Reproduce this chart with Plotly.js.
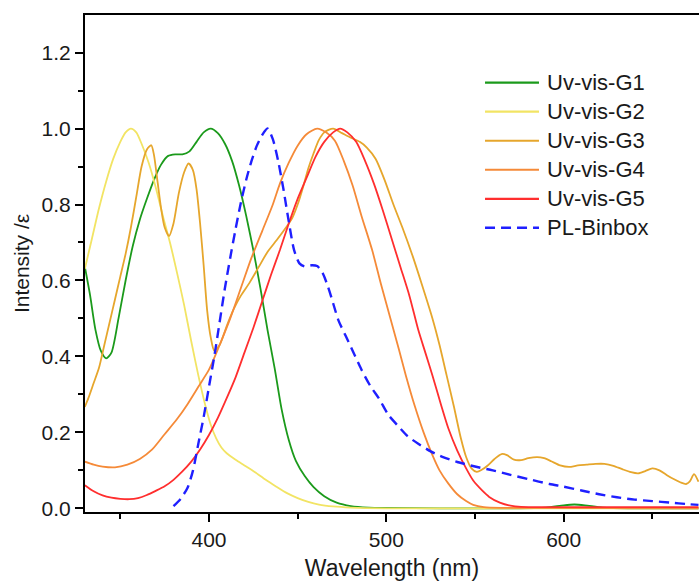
<!DOCTYPE html>
<html>
<head>
<meta charset="utf-8">
<script src="https://cdn.plot.ly/plotly-3.0.1.min.js"></script>
<style>html,body{margin:0;padding:0;background:#fff;}#chart{width:699px;height:586px;}</style>
</head>
<body>
<div id="chart"></div>
<script>
// ---- Data ----
const seriesNames = ["Uv-vis-G1", "Uv-vis-G2", "Uv-vis-G3", "Uv-vis-G4", "Uv-vis-G5", "PL-Binbox"];

const g1X = [330,333,336,339,342,345,349,353,357,361,365,369,373,377,381,385,389,393,397,401,405,409,413,417,421,425,429,433,437,441,445,449,454,459,465,472,480,490,500,530,570,590,600,606,612,622,640,676];
const g1Y = [0.636,0.56,0.47,0.415,0.395,0.41,0.5,0.6,0.69,0.76,0.815,0.865,0.905,0.928,0.932,0.932,0.94,0.965,0.99,1.0,0.988,0.96,0.915,0.85,0.77,0.68,0.58,0.47,0.37,0.26,0.18,0.125,0.085,0.056,0.032,0.015,0.006,0.002,0.001,0,0,0.002,0.008,0.01,0.008,0.002,0,0];

const g2X = [330,334,338,342,346,350,353,356,359,362,366,370,374,378,382,386,390,394,398,401,404,407,410,415,420,426,432,438,444,450,456,462,470,480,500,676];
const g2Y = [0.63,0.71,0.79,0.86,0.92,0.965,0.99,1.0,0.99,0.96,0.91,0.845,0.77,0.7,0.62,0.535,0.44,0.35,0.27,0.22,0.185,0.16,0.145,0.128,0.113,0.095,0.075,0.057,0.04,0.027,0.017,0.01,0.005,0.002,0,0];

const g3X = [330,332,335,338,341,344,347,350,353,356,359,362,365,367.5,369,371,373,375,377.5,380,383,386,388.5,391,393,395,397,399,401,403,406,410,414,418,423,428,433,438,442,447,450,453,456,459,462,465,470,475,480,485,489,494,499,504,509,515,520,526,530,534,538,542,545,548,551,554,557,561,565,568,572,576,580,585,589,593,598,603,608,613,618,623,628,633,638,642,646,650,654,658,662,666,669,671,673.5,676];
const g3Y = [0.267,0.29,0.33,0.37,0.43,0.49,0.55,0.61,0.67,0.74,0.82,0.9,0.945,0.956,0.93,0.86,0.79,0.74,0.717,0.75,0.83,0.885,0.908,0.89,0.84,0.75,0.64,0.52,0.45,0.415,0.43,0.48,0.525,0.56,0.595,0.635,0.675,0.705,0.73,0.765,0.8,0.845,0.895,0.935,0.97,0.99,1.0,0.988,0.976,0.965,0.95,0.92,0.865,0.8,0.74,0.662,0.59,0.5,0.43,0.35,0.27,0.185,0.135,0.105,0.096,0.102,0.112,0.13,0.143,0.14,0.128,0.127,0.132,0.135,0.132,0.124,0.113,0.109,0.113,0.115,0.117,0.117,0.112,0.103,0.095,0.092,0.098,0.105,0.1,0.088,0.077,0.068,0.064,0.07,0.09,0.07];

const g4X = [330,335,340,347,354,361,368,375,382,388,394,400,406,412,418,424,430,436,440,445,450,455,461,466,471,476,481,486,492,497,502,507,511,516,521,526,530,535,540,545,549,555,565,676];
const g4Y = [0.123,0.115,0.11,0.108,0.115,0.13,0.155,0.195,0.235,0.275,0.32,0.365,0.43,0.5,0.58,0.66,0.73,0.8,0.855,0.91,0.955,0.985,1.0,0.99,0.968,0.915,0.85,0.77,0.68,0.59,0.505,0.42,0.35,0.27,0.2,0.14,0.1,0.065,0.037,0.019,0.009,0.003,0.001,0];

const g5X = [330,335,340,345,350,355,360,365,370,375,380,385,390,395,400,405,410,415,420,425,430,435,440,445,450,455,460,465,470,474,478,483,488,493,498,503,508,513,518,522,526,531,535,540,545,549,554,558,564,570,576,590,676];
const g5Y = [0.061,0.045,0.034,0.028,0.025,0.024,0.027,0.035,0.046,0.058,0.075,0.097,0.123,0.155,0.193,0.238,0.29,0.345,0.41,0.475,0.545,0.615,0.68,0.75,0.815,0.87,0.925,0.965,0.99,1.0,0.99,0.965,0.915,0.855,0.785,0.71,0.635,0.56,0.47,0.41,0.35,0.27,0.21,0.152,0.105,0.073,0.047,0.03,0.015,0.007,0.004,0.003,0.003];

const plX = [380,384,388,391,394,397,400,403,406,409,412,415,418,421,424,427,430,433,436,439,442,445,448,451,454,458,461,464,467,470,473,477,481,486,491,496,501,506,512,518,525,532,540,550,560,570,580,592,600,610,620,630,640,650,660,670,676];
const plY = [0.006,0.025,0.055,0.1,0.17,0.24,0.32,0.4,0.49,0.58,0.66,0.735,0.805,0.865,0.915,0.955,0.983,1.0,0.972,0.915,0.84,0.755,0.68,0.645,0.637,0.64,0.638,0.62,0.585,0.54,0.495,0.455,0.415,0.365,0.322,0.288,0.247,0.22,0.19,0.17,0.15,0.135,0.122,0.11,0.1,0.088,0.077,0.064,0.057,0.047,0.037,0.029,0.023,0.019,0.015,0.011,0.009];

const xTickVals = [400, 500, 600];
const yTickVals = [0, 0.2, 0.4, 0.6, 0.8, 1.0, 1.2];

// ---- Styling ----
const colors = ["#1b9a1b", "#f2e464", "#e6a62c", "#f58a38", "#ff2e2e", "#1f1fff"];
const dashes = ["solid", "solid", "solid", "solid", "solid", "10px,6px"];
const widths = [1.8, 1.8, 1.8, 1.8, 1.8, 2.4];
const xs = [g1X, g2X, g3X, g4X, g5X, plX];
const ys = [g1Y, g2Y, g3Y, g4Y, g5Y, plY];

const traces = seriesNames.map((name, i) => ({
  x: xs[i], y: ys[i], name: name, type: "scatter", mode: "lines",
  line: {color: colors[i], width: widths[i], dash: dashes[i], shape: "spline", smoothing: 0.7},
  showlegend: false
}));

const font = "Liberation Sans, Arial, sans-serif";

// Legend drawn as paper-referenced samples + text (positions in paper fractions)
const legTop = 0.8638, legStep = 0.0584, legX0 = 0.6515, legX1 = 0.7394, legTextX = 0.749;
const shapes = seriesNames.map((n, i) => ({
  type: "line", xref: "paper", yref: "paper",
  x0: legX0, x1: legX1, y0: legTop - i * legStep, y1: legTop - i * legStep,
  line: {color: colors[i], width: i === 5 ? 2.4 : 2.2, dash: dashes[i]}
}));
const annotations = seriesNames.map((n, i) => ({
  text: n, xref: "paper", yref: "paper", x: legTextX, y: legTop - i * legStep,
  xanchor: "left", yanchor: "middle", showarrow: false,
  font: {family: font, size: 22, color: "#1a1a1a"}
}));

const layout = {
  width: 699, height: 586,
  margin: {l: 85, r: 0, t: 15, b: 74},
  paper_bgcolor: "#ffffff", plot_bgcolor: "#ffffff",
  showlegend: false,
  shapes: shapes,
  annotations: annotations,
  xaxis: {
    range: [330.1, 676.3],
    tickvals: xTickVals, ticktext: xTickVals.map(String),
    ticks: "outside", ticklen: 8, tickwidth: 2, tickcolor: "#000",
    minor: {dtick: 50, tick0: 0, ticks: "outside", ticklen: 5, tickwidth: 2, tickcolor: "#000"},
    showline: true, linewidth: 2, linecolor: "#000", mirror: true,
    showgrid: false, zeroline: false,
    tickfont: {family: font, size: 21, color: "#1a1a1a"},
    title: {text: "Wavelength (nm)", font: {family: font, size: 23, color: "#1a1a1a"}, standoff: 10}
  },
  yaxis: {
    range: [-0.0097, 1.299],
    tickvals: yTickVals, ticktext: yTickVals.map(v => v.toFixed(1)),
    ticks: "outside", ticklen: 8, tickwidth: 2, tickcolor: "#000",
    minor: {dtick: 0.1, tick0: 0, ticks: "outside", ticklen: 5, tickwidth: 2, tickcolor: "#000"},
    showline: true, linewidth: 2, linecolor: "#000", mirror: false,
    showgrid: false, zeroline: false,
    tickfont: {family: font, size: 21, color: "#1a1a1a"},
    title: {text: "Intensity /ε", font: {family: font, size: 21, color: "#1a1a1a"}, standoff: 6}
  }
};

Plotly.newPlot("chart", traces, layout, {displayModeBar: false, staticPlot: true});
</script>
</body>
</html>
